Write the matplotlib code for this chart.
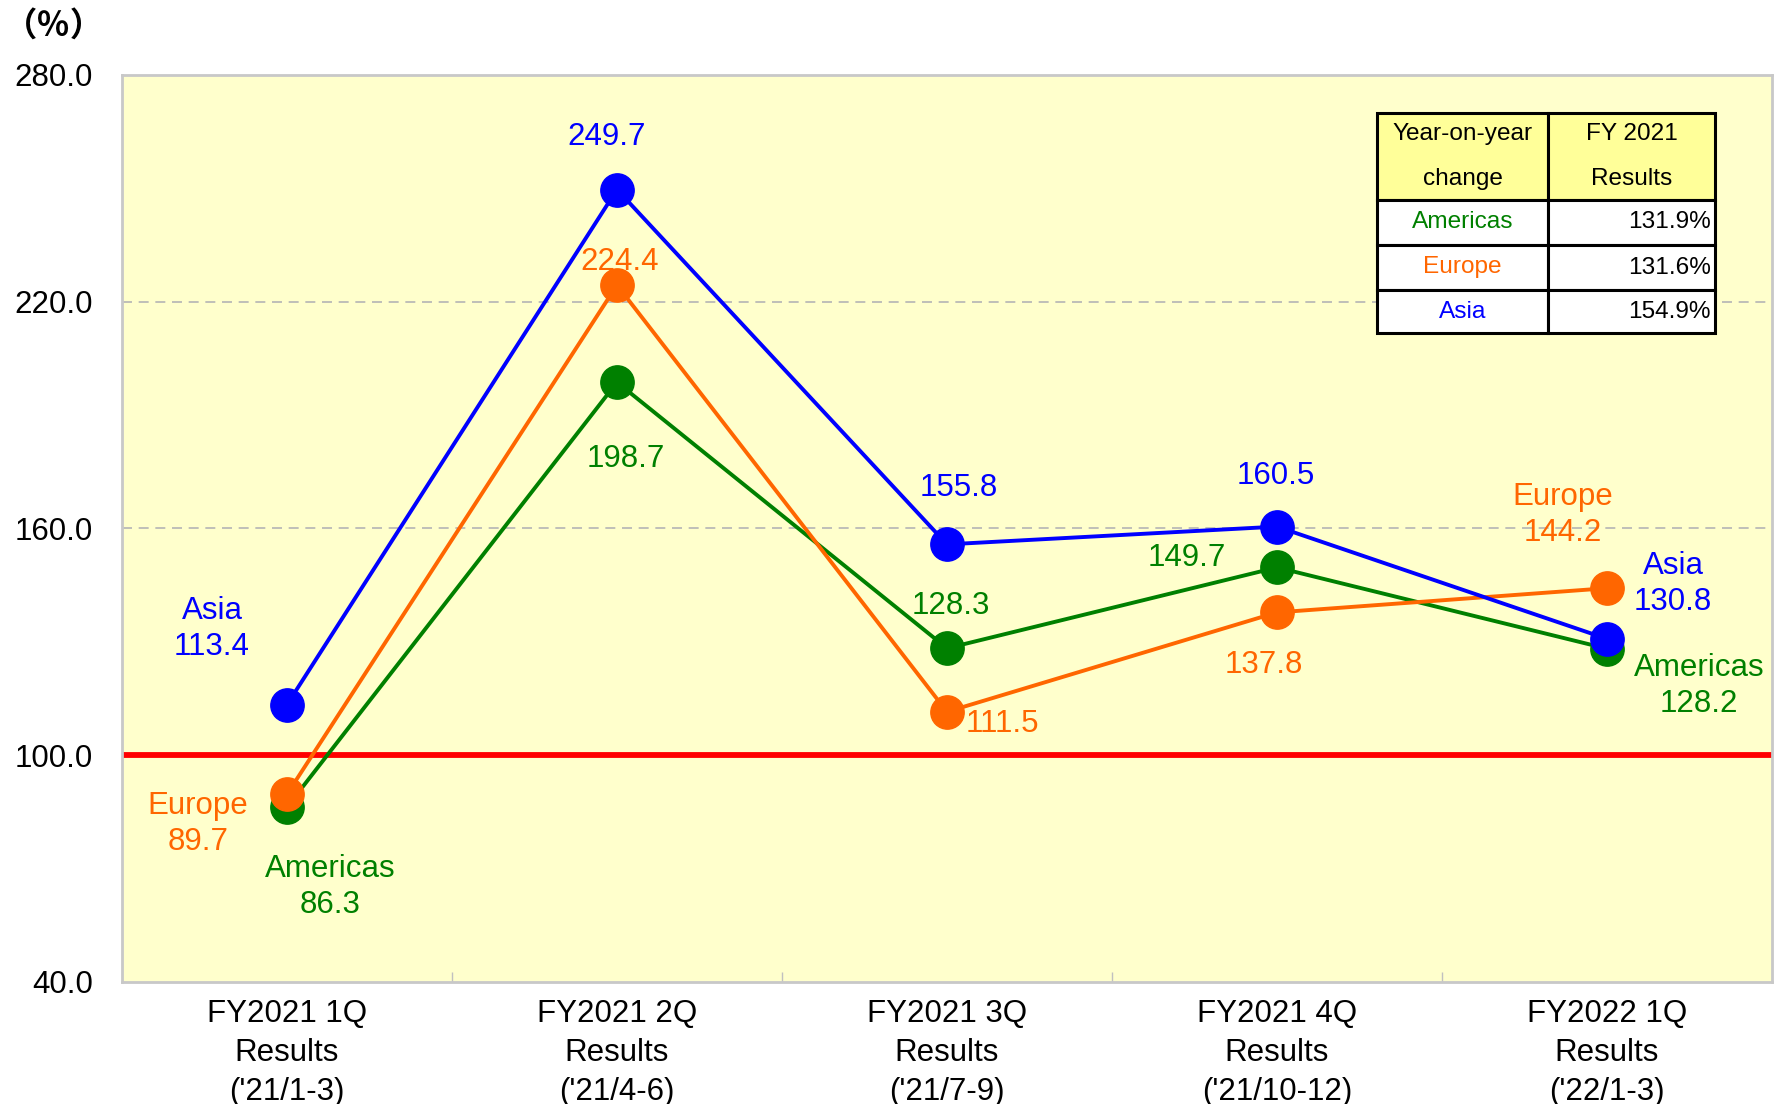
import matplotlib
matplotlib.use("Agg")
import matplotlib.pyplot as plt
from matplotlib.patches import Rectangle

plt.rcParams['font.family'] = ['Liberation Sans', 'DejaVu Sans']

# ---- data ----
categories = ["FY2021 1Q\nResults\n('21/1-3)",
              "FY2021 2Q\nResults\n('21/4-6)",
              "FY2021 3Q\nResults\n('21/7-9)",
              "FY2021 4Q\nResults\n('21/10-12)",
              "FY2022 1Q\nResults\n('22/1-3)"]
americas = [86.3, 198.7, 128.3, 149.7, 128.2]
europe = [89.7, 224.4, 111.5, 137.8, 144.2]
asia = [113.4, 249.7, 155.8, 160.5, 130.8]
y_ticks = [40, 100, 160, 220, 280]
table_regions = ["Americas", "Europe", "Asia"]
table_values = ["131.9%", "131.6%", "154.9%"]

GREEN, ORANGE, BLUE = "#008000", "#FF6600", "#0000FF"

# label placement (pixel offsets of the label centre from its point; +y is down)
series = [
    ("Americas", americas, GREEN, [(43, 80), (9, 77), (4, -42), (-90, -9), (92, 37)]),
    ("Europe", europe, ORANGE, [(-89, 30), (3, -23), (55, 12), (-13, 53), (-44, -73)]),
    ("Asia", asia, BLUE, [(-75, -76), (-10, -53), (12, -56), (-1, -51), (66, -55)]),
]

fig = plt.figure(figsize=(17.78, 11.04), dpi=100)
ax = fig.add_axes([122 / 1778, 1 - 982 / 1104, 1650 / 1778, 907 / 1104])
ax.set_facecolor("#FFFFCC")
for s in ax.spines.values():
    s.set_color("#C8C8C8")
    s.set_linewidth(2)

ax.set_xlim(-0.5, 4.5)
ax.set_ylim(40, 280)

# grid lines and 100% reference
for g in (160, 220):
    ax.axhline(g, color="#B4B4B4", lw=1.2, ls=(0, (6, 4)), zorder=1)
ax.axhline(100, color="#FF0000", lw=4.2, zorder=2)

x = list(range(len(categories)))
for name, vals, col, offs in series:
    ax.plot(x, vals, color=col, lw=2.8, marker="o", markersize=24,
            markerfacecolor=col, markeredgecolor=col, zorder=3)
    for i, (v, (dx, dy)) in enumerate(zip(vals, offs)):
        if i in (0, len(vals) - 1):
            ax.annotate(name, (i, v), xytext=(dx, -(dy - 18)), textcoords="offset pixels",
                        ha="center", va="center", color=col, fontsize=22.5, zorder=5)
            ax.annotate(f"{v:.1f}", (i, v), xytext=(dx, -(dy + 18)), textcoords="offset pixels",
                        ha="center", va="center", color=col, fontsize=22.5, zorder=5)
        else:
            ax.annotate(f"{v:.1f}", (i, v), xytext=(dx, -dy), textcoords="offset pixels",
                        ha="center", va="center", color=col, fontsize=22.5, zorder=5)

# axes ticks
ax.set_yticks(y_ticks)
ax.set_yticklabels([f"{t:.1f}" for t in y_ticks])
ax.tick_params(axis="y", length=0, pad=21, labelsize=22.5)
ax.set_xticks(x)
ax.set_xticklabels(categories)
ax.tick_params(axis="x", which="major", length=0, pad=12.5, labelsize=22.5)
for t in ax.get_xticklabels():
    t.set_linespacing(1.38)
ax.set_xticks([0.5, 1.5, 2.5, 3.5], minor=True)
ax.tick_params(axis="x", which="minor", direction="in", length=7, width=1, color="#C0C0C0")

fig.text(54 / 1778, 1 - 26 / 1104, "（％）", family=["Noto Sans CJK JP", "DejaVu Sans"],
         fontsize=24, fontweight="bold", ha="center", va="center", color="black")

# summary table (axes fraction coordinates)
def fx(px):
    return (px - 122) / 1650

def fy(py):
    return (982 - py) / 907

col_edges = [1377, 1548, 1715]
row_edges = [113, 200, 245, 290, 333]
for r in range(4):
    for c in range(2):
        face = "#FFFF99" if r == 0 else "white"
        ax.add_patch(Rectangle((fx(col_edges[c]), fy(row_edges[r + 1])),
                               fx(col_edges[c + 1]) - fx(col_edges[c]),
                               fy(row_edges[r]) - fy(row_edges[r + 1]),
                               transform=ax.transAxes, facecolor=face, edgecolor="black",
                               lw=2.2, zorder=6))

c1 = fx((col_edges[0] + col_edges[1]) / 2)
c2 = fx((col_edges[1] + col_edges[2]) / 2)
tkw = dict(transform=ax.transAxes, fontsize=17.6, va="center", zorder=7)
ax.text(c1, fy(134), "Year-on-year", ha="center", color="black", **tkw)
ax.text(c1, fy(179), "change", ha="center", color="black", **tkw)
ax.text(c2, fy(134), "FY 2021", ha="center", color="black", **tkw)
ax.text(c2, fy(179), "Results", ha="center", color="black", **tkw)
for k, (reg, val) in enumerate(zip(table_regions, table_values)):
    yc = fy((row_edges[k + 1] + row_edges[k + 2]) / 2)
    col = {"Americas": GREEN, "Europe": ORANGE, "Asia": BLUE}[reg]
    ax.text(c1, yc, reg, ha="center", color=col, **tkw)
    ax.text(fx(1711), yc, val, ha="right", color="black", **tkw)

fig.savefig("out.png", dpi=100, facecolor="white")
